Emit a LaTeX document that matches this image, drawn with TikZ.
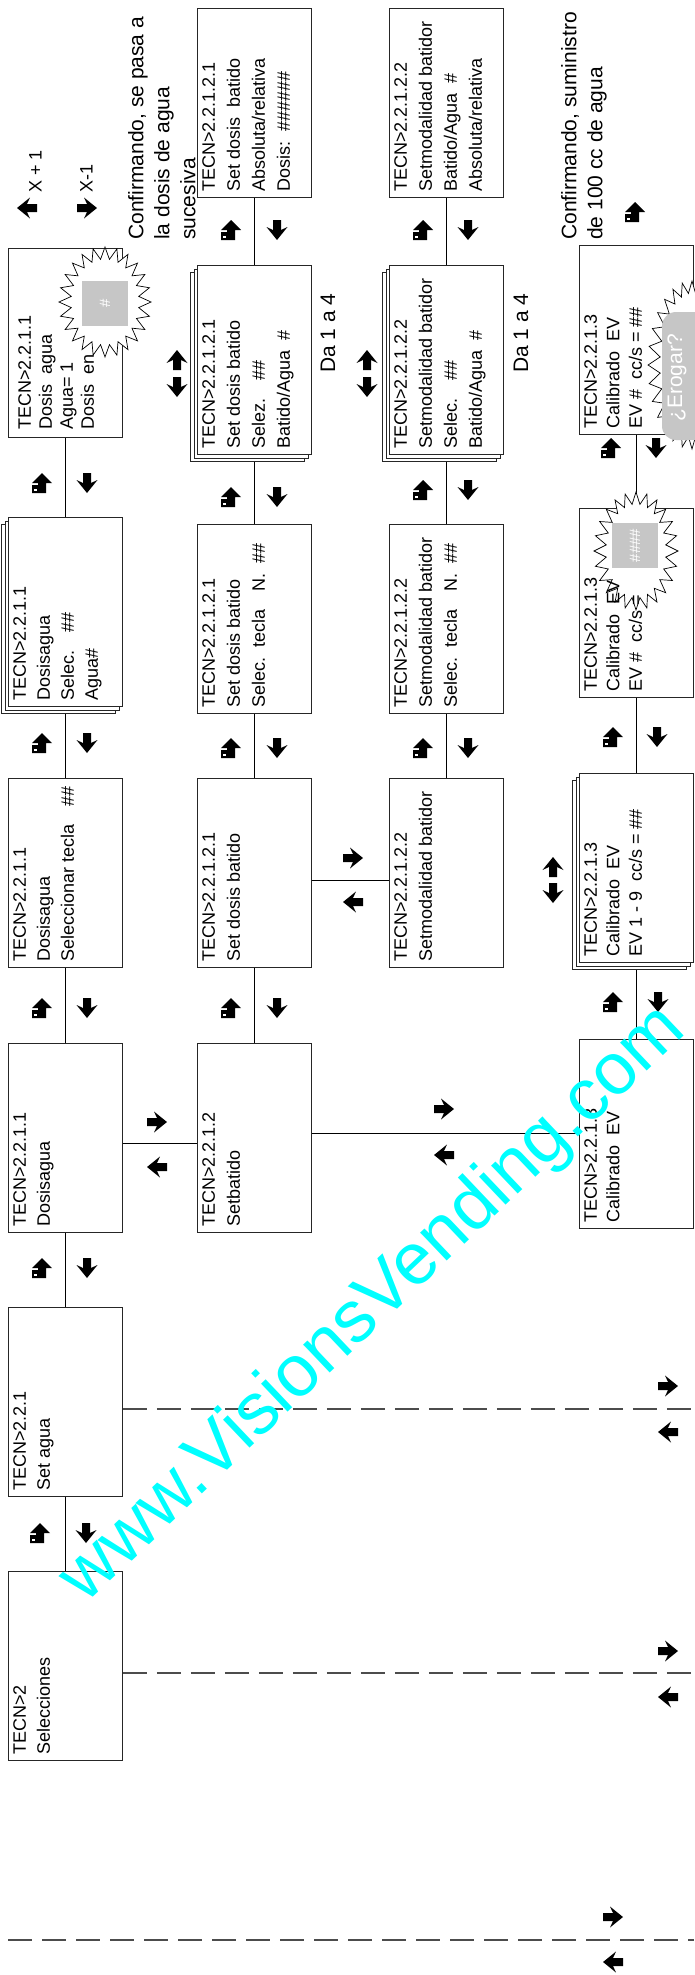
\documentclass[tikz,border=0pt]{standalone}
\usepackage{fontspec}
\setmainfont{Liberation Sans}
\definecolor{wmcyan}{RGB}{0,255,255}
\definecolor{padgray}{RGB}{198,198,198}
\tikzset{
  darr/.pic={\fill (-4,-10) -- (4,-10) -- (4,0) -- (10.5,-3) -- (0,10) -- (-10.5,-3) -- (-4,0) -- cycle;},
  earr/.pic={\fill (0,-10) -- (10,0) -- (4,0) -- (4,10) -- (-10,10) -- (-10,2) -- (-4,2) -- (-4,0) -- (-10,0) -- cycle;
             \fill[white] (-8,5.5) rectangle (-5,7.5);},
  scr/.style={draw=black!85, line width=0.9pt, fill=white, minimum width=114pt, minimum height=189pt, inner sep=0pt, anchor=north west},
  scrtxt/.style={rotate=90, anchor=north west, inner sep=0pt, align=left, font=\fontsize{18}{24}\selectfont},
  widetxt/.style={font=\fontsize{18}{25}\selectfont},
  calctxt/.style={font=\fontsize{18}{22.5}\selectfont},
  notetxt/.style={rotate=90, anchor=north west, inner sep=0pt, align=left, font=\fontsize{21}{26}\selectfont},
  conn/.style={draw=black, line width=0.9pt},
  dconn/.style={draw=black!70, line width=1.2pt, dash pattern=on 24pt off 10pt},
  burstline/.style={draw=black, line width=0.7pt, fill=white},
  graypad/.style={fill=padgray, draw=none, inner sep=0pt},
  padtxt/.style={rotate=90, text=white, inner sep=0pt},
  wmark/.style={text=wmcyan, font=\fontsize{73}{78}\selectfont, inner sep=0pt}
}
\newcommand\ScrAt[3]{\node[scr] (#1) at (#2,#3) {};}
\newcommand\StackAt[3]{\node[scr] (#1-c) at (#2-7,#3+7) {};\node[scr] (#1-b) at (#2-3.5,#3+3.5) {};\node[scr] (#1) at (#2,#3) {};}
\newcommand\ScrText[3]{\node[scrtxt,#3] (#1-t) at ([xshift=5pt,yshift=6pt]#1.south west) {#2};}
\newcommand\BurstAt[5]{\draw[burstline] plot[samples at={1,...,#5}, variable=\jj] ({#1+(#3-12*mod(\jj,2))*cos((360/#5)*\jj)}, {#2+(#4-12*mod(\jj,2))*sin((360/#5)*\jj)}) -- cycle;}
\newcommand\VPair[3]{\pic at (#1,#3) {earr}; \pic at (#2,#3) {darr};}
\newcommand\HPair[3]{\pic[rotate=90] at (#1,#2) {darr}; \pic[rotate=-90] at (#1,#3) {darr};}
\newcommand\UDPair[3]{\pic[rotate=180] at (#1,#2) {darr}; \pic at (#1,#3) {darr};}
\begin{document}
\begin{tikzpicture}[x=1pt,y=-1pt]
\fill[white] (0,0) rectangle (694,1975);
\useasboundingbox (0,0) rectangle (694,1975);

\coordinate (hA) at (0,1143);
\coordinate (hB) at (0,1133);
\coordinate (hC) at (0,880);
\coordinate (eA) at (694,1409);
\coordinate (eB) at (694,1673);
\coordinate (eC1) at (8,1940);
\coordinate (eC2) at (694,1940);

% column 1
\ScrAt{b11a}{8}{248}
\StackAt{s11}{8}{517}
\ScrAt{d11sel}{8}{778}
\ScrAt{d11}{8}{1043}
\ScrAt{setagua}{8}{1307}
\ScrAt{tecn2}{8}{1571}
% column 2
\ScrAt{t1}{197}{8}
\StackAt{s121}{197}{265}
\ScrAt{sel121}{197}{524}
\ScrAt{set121}{197}{778}
\ScrAt{setbatido}{197}{1043}
% column 3
\ScrAt{t2}{389}{8}
\StackAt{s122}{389}{265}
\ScrAt{sel122}{389}{524}
\ScrAt{set122}{389}{778}
% column 4
\ScrAt{cal3a}{579}{245}
\ScrAt{cal3b}{579}{508}
\StackAt{cal3s}{579}{773}
\ScrAt{calev}{579}{1039}

% ---------- connectors ----------
\draw[conn] (b11a.south) -- (s11.north);
\draw[conn] (s11-c.south -| s11.south) -- (d11sel.north);
\draw[conn] (d11sel.south) -- (d11.north);
\draw[conn] (d11.south) -- (setagua.north);
\draw[conn] (setagua.south) -- (tecn2.north);
\draw[conn] (t1.south) -- (s121.north);
\draw[conn] (s121-c.south -| s121.south) -- (sel121.north);
\draw[conn] (sel121.south) -- (set121.north);
\draw[conn] (set121.south) -- (setbatido.north);
\draw[conn] (t2.south) -- (s122.north);
\draw[conn] (s122-c.south -| s122.south) -- (sel122.north);
\draw[conn] (sel122.south) -- (set122.north);
\draw[conn] (cal3a.south) -- (cal3b.north);
\draw[conn] (cal3b.south) -- (cal3s.north);
\draw[conn] (cal3s-c.south -| cal3s.south) -- (calev.north);
\draw[conn] (d11.east |- hA) -- (setbatido.west |- hA);
\draw[conn] (setbatido.east |- hB) -- (calev.west |- hB);
\draw[conn] (set121.east |- hC) -- (set122.west |- hC);
\draw[dconn] (setagua.east |- eA) -- (eA);
\draw[dconn] (tecn2.east |- eB) -- (eB);
\draw[dconn] (eC1) -- (eC2);

% ---------- bursts ----------
\BurstAt{105}{302}{46}{55}{48}
\BurstAt{636}{551}{42}{59}{48}
\BurstAt{692}{365}{44}{84}{56}
\node[graypad, minimum width=46pt, minimum height=45pt] (g1) at (105,303.5) {};
\node[padtxt, font=\fontsize{15}{15}\selectfont] (g1t) at (105,303.5) {\#};
\node[graypad, minimum width=46pt, minimum height=45pt] (g2) at (635,545.5) {};
\node[padtxt, font=\fontsize{15}{15}\selectfont] (g2t) at (635,545.5) {\#\#\#\#};
\node[graypad, rounded corners=14pt, minimum width=62pt, minimum height=128pt] (g3) at (693,376) {};
\node[padtxt, font=\fontsize{21}{21}\selectfont] (g3t) at (677,378) {¿Erogar?};

% ---------- box texts ----------
\node[scrtxt, font=\fontsize{18}{21}\selectfont] (b11a-t) at ([xshift=10pt,yshift=8pt]b11a.south west) {TECN>2.2.1.1\\Dosis\ \ agua\\Agua= 1\\Dosis\ \ en};
\ScrText{s11}{TECN>2.2.1.1\\Dosisagua\\Selec.\quad\#\#\\Agua\#}{}
\ScrText{d11sel}{TECN>2.2.1.1\\Dosisagua\\Seleccionar tecla\quad\#\#}{}
\ScrText{d11}{TECN>2.2.1.1\\Dosisagua}{}
\ScrText{setagua}{TECN>2.2.1\\Set agua}{}
\ScrText{tecn2}{TECN>2\\Selecciones}{}
\ScrText{t1}{TECN>2.2.1.2.1\\Set dosis\ \ batido\\Absoluta/relativa\\Dosis:\ \ \#\#\#\#\#\#}{widetxt}
\ScrText{s121}{TECN>2.2.1.2.1\\Set dosis batido\\Selez.\quad\#\#\\Batido/Agua\ \ \#}{widetxt}
\ScrText{sel121}{TECN>2.2.1.2.1\\Set dosis batido\\Selec.\ \ tecla\quad N.\ \ \#\#}{widetxt}
\ScrText{set121}{TECN>2.2.1.2.1\\Set dosis batido}{widetxt}
\ScrText{setbatido}{TECN>2.2.1.2\\Setbatido}{widetxt}
\ScrText{t2}{TECN>2.2.1.2.2\\Setmodalidad batidor\\Batido/Agua\ \ \#\\Absoluta/relativa}{widetxt}
\ScrText{s122}{TECN>2.2.1.2.2\\Setmodalidad batidor\\Selec.\quad\#\#\\Batido/Agua\ \ \#}{widetxt}
\ScrText{sel122}{TECN>2.2.1.2.2\\Setmodalidad batidor\\Selec.\ \ tecla\quad N.\ \ \#\#}{widetxt}
\ScrText{set122}{TECN>2.2.1.2.2\\Setmodalidad batidor}{widetxt}
\ScrText{cal3a}{TECN>2.2.1.3\\Calibrado\ \ EV\\EV \#\ \ cc/s = \#\#}{calctxt}
\ScrText{cal3b}{TECN>2.2.1.3\\Calibrado\ \ EV\\EV \#\ \ cc/s =}{calctxt}
\ScrText{cal3s}{TECN>2.2.1.3\\Calibrado\ \ EV\\EV 1 - 9\ \ cc/s = \#\#}{calctxt}
\ScrText{calev}{TECN>2.2.1.3\\Calibrado\ \ EV}{calctxt}

% ---------- notes ----------
\node[notetxt] (n1) at (128,240) {Confirmando, se pasa a\\la dosis de agua\\sucesiva};
\node[notetxt] (n2) at (561,240) {Confirmando, suministro\\de 100 cc de agua};
\node[rotate=90, inner sep=0pt, font=\fontsize{21}{26}\selectfont] (da1) at (328,333) {Da 1 a 4};
\node[rotate=90, inner sep=0pt, font=\fontsize{21}{26}\selectfont] (da2) at (521,333) {Da 1 a 4};
\node[notetxt, font=\fontsize{18}{22}\selectfont] (xp) at (29,193) {X + 1};
\node[notetxt, font=\fontsize{18}{22}\selectfont] (xm) at (80,193) {X-1};

% ---------- arrow glyphs ----------
\pic[rotate=-90] at (27,208) {darr};
\pic[rotate=90] at (87,208) {darr};
\VPair{42}{87}{483}
\VPair{42}{87}{743}
\VPair{42}{87}{1008}
\VPair{42}{87}{1268}
\VPair{40}{86}{1533}
\VPair{231}{277}{230}
\VPair{231}{277}{497}
\VPair{231}{277}{748}
\VPair{231}{277}{1008}
\VPair{423}{468}{230}
\VPair{423}{468}{490}
\VPair{423}{468}{748}
\pic at (635,212) {earr};
\VPair{611}{656}{448}
\VPair{613}{657}{737}
\VPair{613}{658}{1002}
\HPair{157}{1122}{1167}
\HPair{444}{1109}{1155}
\HPair{353}{858}{902}
\HPair{668}{1386}{1432}
\HPair{668}{1651}{1697}
\HPair{613}{1917}{1962}
\UDPair{177}{360}{387}
\UDPair{367}{360}{387}
\UDPair{553}{867}{893}

% ---------- watermark ----------
\node[wmark, rotate=43.5] (wm) at (374,1305) {www.VisionsVending.com};
\end{tikzpicture}
\end{document}
